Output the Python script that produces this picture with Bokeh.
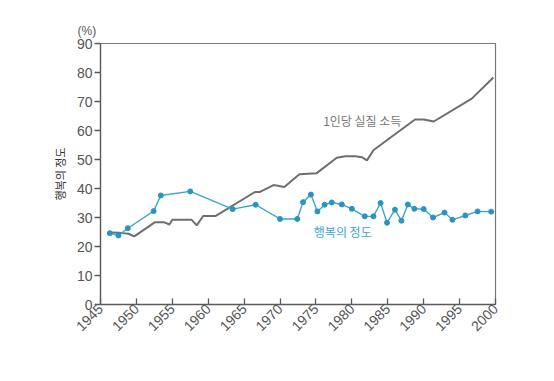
import math
from bokeh.plotting import figure
from bokeh.models import FixedTicker, Label, Range1d, Title
from bokeh.embed import file_html
from bokeh.resources import INLINE

# Happiness (행복의 정도), percent
happy_years = [1946.3, 1947.5, 1948.8, 1952.4, 1953.4, 1957.5, 1963.4, 1966.6, 1970.0,
               1972.4, 1973.2, 1974.3, 1975.2, 1976.2, 1977.2, 1978.6, 1980.0, 1981.8,
               1983.0, 1984.0, 1984.9, 1986.0, 1986.9, 1987.8, 1988.7, 1990.0, 1991.3,
               1992.9, 1994.0, 1995.8, 1997.5, 1999.4]
happy_vals = [24.6, 23.8, 26.3, 32.2, 37.6, 39.0, 32.9, 34.4, 29.5,
              29.5, 35.3, 37.9, 32.1, 34.4, 35.2, 34.5, 33.0, 30.4,
              30.4, 35.0, 28.2, 32.7, 28.9, 34.5, 33.0, 32.9, 30.0,
              31.7, 29.2, 30.7, 32.1, 32.0]

# Real income per capita (1인당 실질 소득)
income_years = [1946.3, 1947.7, 1948.9, 1949.7, 1952.6, 1953.8, 1954.6, 1955.0, 1957.7,
                1958.4, 1959.3, 1961.0, 1966.5, 1967.2, 1969.1, 1970.6, 1972.7, 1975.1,
                1977.9, 1979.1, 1980.5, 1981.4, 1982.1, 1983.0, 1986.0, 1988.8, 1990.0,
                1991.4, 1996.7, 1999.7]
income_vals = [24.8, 24.7, 24.4, 23.5, 28.4, 28.4, 27.6, 29.2, 29.2,
               27.3, 30.5, 30.5, 38.8, 38.8, 41.2, 40.5, 44.9, 45.3,
               50.6, 51.1, 51.1, 50.8, 49.7, 53.2, 58.7, 63.8, 63.8,
               63.1, 71.0, 78.3]

x_ticks = [1945, 1950, 1955, 1960, 1965, 1970, 1975, 1980, 1985, 1990, 1995, 2000]
y_ticks = [0, 10, 20, 30, 40, 50, 60, 70, 80, 90]

FONT = "Liberation Sans"
AXIS_COL = "#5a5a5a"
GRAY = "#6e6e6e"
BLUE = "#3aa7cd"
BLUE_DARK = "#2a93c0"

p = figure(width=546, height=365, output_backend="svg", toolbar_location=None,
           x_range=Range1d(1945, 2000), y_range=Range1d(0, 90),
           min_border_left=100, min_border_right=51, min_border_top=43,
           min_border_bottom=61)

p.xgrid.visible = False
p.ygrid.visible = False
p.outline_line_color = "#777777"
p.outline_line_width = 1.2
p.background_fill_color = "white"
p.border_fill_color = "white"

p.line(income_years, income_vals, line_color=GRAY, line_width=2)
p.line(happy_years, happy_vals, line_color=BLUE, line_width=1.4)
p.scatter(happy_years, happy_vals, size=5, fill_color=BLUE_DARK, line_color=BLUE_DARK)

p.xaxis.ticker = FixedTicker(ticks=x_ticks)
p.yaxis.ticker = FixedTicker(ticks=y_ticks)
for ax in (p.xaxis, p.yaxis):
    ax.axis_line_color = AXIS_COL
    ax.axis_line_width = 1.3
    ax.major_tick_line_color = AXIS_COL
    ax.major_tick_line_width = 1.3
    ax.minor_tick_line_color = None
    ax.major_label_text_font = FONT
    ax.major_label_text_font_size = "14px"
    ax.major_label_text_color = "#555555"

p.xaxis.major_tick_in = 6
p.xaxis.major_tick_out = 0
p.xaxis.major_label_orientation = math.pi / 4
p.xaxis.major_label_standoff = 2

p.yaxis.major_tick_in = 0
p.yaxis.major_tick_out = 6
p.yaxis.major_label_standoff = 2
p.yaxis.axis_label = "행복의 정도"
p.yaxis.axis_label_text_font = "Noto Sans CJK KR"
p.yaxis.axis_label_text_font_style = "normal"
p.yaxis.axis_label_text_font_size = "11px"
p.yaxis.axis_label_text_color = "#333333"
p.yaxis.axis_label_standoff = 6

p.add_layout(Title(text="(%)", align="left", offset=-23, standoff=11,
                   text_font=FONT, text_font_size="12px", text_font_style="normal",
                   text_color="#555555"), "above")
p.add_layout(Label(x=1976.0, y=63.3, text="1인당 실질 소득",
                   text_font="Noto Sans CJK KR", text_font_size="12px",
                   text_color="#777777", text_baseline="middle"))
p.add_layout(Label(x=1974.7, y=25.3, text="행복의 정도",
                   text_font="Noto Sans CJK KR", text_font_size="12px",
                   text_color=BLUE, text_baseline="middle"))

open("out.html", "w").write(file_html(p, INLINE))
